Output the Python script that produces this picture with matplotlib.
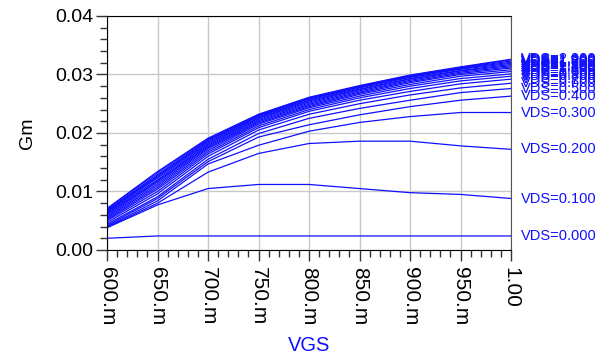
import numpy as np
import matplotlib
matplotlib.use("Agg")
import matplotlib.pyplot as plt
from matplotlib.ticker import MultipleLocator, FixedLocator

plt.rcParams['font.family'] = ['Liberation Sans', 'DejaVu Sans']

# VGS sweep points (V)
vgs = [0.60, 0.65, 0.70, 0.75, 0.80, 0.85, 0.90, 0.95, 1.00]
vgs_labels = ["600.m", "650.m", "700.m", "750.m", "800.m", "850.m", "900.m", "950.m", "1.00"]

# VDS values of each curve
vds = [0.0, 0.1, 0.2, 0.3, 0.4, 0.5, 0.6, 0.7, 0.8, 0.9, 1.0,
       1.1, 1.2, 1.3, 1.4, 1.5, 1.6, 1.7, 1.8, 1.9, 2.0]

# Gm, one row per VDS
gm = [
    [0.0020, 0.0024, 0.0024, 0.0024, 0.0024, 0.0024, 0.0024, 0.0024, 0.0024],
    [0.0038, 0.0077, 0.0105, 0.0112, 0.0112, 0.0105, 0.0098, 0.0095, 0.0088],
    [0.0039, 0.0080, 0.0133, 0.0165, 0.0182, 0.0186, 0.0186, 0.0178, 0.0172],
    [0.0040, 0.0084, 0.0147, 0.0179, 0.0203, 0.0218, 0.0228, 0.0235, 0.0235],
    [0.0042, 0.0088, 0.0151, 0.0193, 0.0214, 0.0231, 0.0245, 0.0256, 0.0263],
    [0.0044, 0.0091, 0.0155, 0.0199, 0.0225, 0.0242, 0.0256, 0.0269, 0.0276],
    [0.0047, 0.0096, 0.0160, 0.0205, 0.0232, 0.0250, 0.0265, 0.0277, 0.0285],
    [0.0050, 0.0100, 0.0164, 0.0209, 0.0237, 0.0256, 0.0271, 0.0284, 0.0292],
    [0.0052, 0.0104, 0.0167, 0.0212, 0.0240, 0.0260, 0.0276, 0.0289, 0.0297],
    [0.0054, 0.0107, 0.0170, 0.0215, 0.0243, 0.0263, 0.0280, 0.0293, 0.0301],
    [0.0056, 0.0110, 0.0173, 0.0217, 0.0245, 0.0266, 0.0283, 0.0297, 0.0305],
    [0.0058, 0.0113, 0.0175, 0.0219, 0.0247, 0.0268, 0.0286, 0.0300, 0.0308],
    [0.0060, 0.0116, 0.0177, 0.0221, 0.0249, 0.0270, 0.0288, 0.0302, 0.0311],
    [0.0062, 0.0118, 0.0179, 0.0223, 0.0251, 0.0272, 0.0290, 0.0304, 0.0313],
    [0.0063, 0.0120, 0.0181, 0.0225, 0.0253, 0.0274, 0.0292, 0.0306, 0.0315],
    [0.0065, 0.0123, 0.0183, 0.0226, 0.0255, 0.0275, 0.0293, 0.0307, 0.0317],
    [0.0066, 0.0125, 0.0185, 0.0228, 0.0256, 0.0277, 0.0295, 0.0309, 0.0319],
    [0.0067, 0.0127, 0.0187, 0.0229, 0.0258, 0.0278, 0.0296, 0.0310, 0.0321],
    [0.0068, 0.0129, 0.0188, 0.0230, 0.0259, 0.0279, 0.0297, 0.0311, 0.0323],
    [0.0070, 0.0132, 0.0190, 0.0231, 0.0260, 0.0280, 0.0298, 0.0312, 0.0325],
    [0.0071, 0.0134, 0.0191, 0.0232, 0.0261, 0.0281, 0.0299, 0.0313, 0.0326],
]

blue = '#1010ff'

fig = plt.figure(figsize=(6.09, 3.55), dpi=100)
ax = fig.add_axes([0.1757, 0.2958, 0.6634, 0.6592])

for v, row in zip(vds, gm):
    ax.plot(vgs, row, color=blue, lw=0.9)
    ax.annotate("VDS=%.3f" % v, xy=(vgs[-1], row[-1]), xytext=(7.5, 0),
                textcoords='offset points', va='center', ha='left',
                color=blue, fontsize=10.5, annotation_clip=False)

ax.set_xlim(0.6, 1.0)
ax.set_ylim(0.0, 0.04)

ax.xaxis.set_major_locator(FixedLocator(vgs))
ax.set_xticklabels(vgs_labels, rotation=-90, fontsize=15)
ax.xaxis.set_minor_locator(MultipleLocator(0.01))
ax.set_yticks([0.0, 0.01, 0.02, 0.03, 0.04])
ax.set_yticklabels(["0.00", "0.01", "0.02", "0.03", "0.04"], fontsize=14)
ax.yaxis.set_minor_locator(MultipleLocator(0.002))

ax.tick_params(axis='both', which='major', direction='out', length=8, width=1, color='#333333', pad=2)
ax.tick_params(axis='x', which='major', pad=4)
ax.tick_params(axis='both', which='minor', direction='out', length=5, width=1, color='#333333')

ax.grid(True, which='major', color='#c8c8c8', lw=1)
ax.set_axisbelow(True)
for s in ['left', 'bottom', 'top']:
    ax.spines[s].set_color('black')
ax.spines['right'].set_color('#555555')

ax.set_xlabel("VGS", color=blue, fontsize=14.5, labelpad=8)
ax.set_ylabel("Gm", fontsize=14, labelpad=14)

fig.savefig("out.png", dpi=100)
